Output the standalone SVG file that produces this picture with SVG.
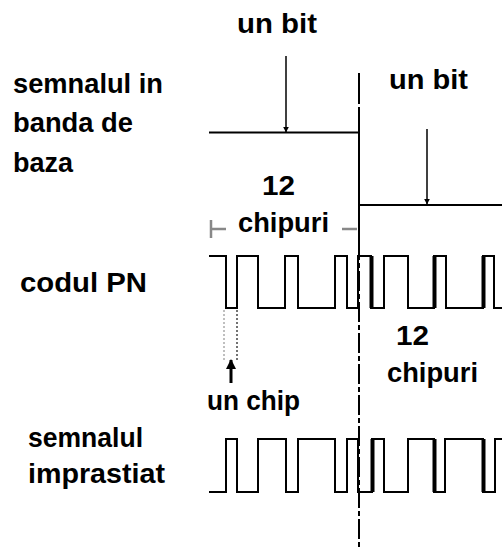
<svg xmlns="http://www.w3.org/2000/svg" width="502" height="547" viewBox="0 0 502 547">
<style>
.t{font-family:"Liberation Sans",Arial,sans-serif;font-weight:bold;font-size:27px;fill:#000}
.w{fill:none;stroke:#000;stroke-width:2;stroke-linejoin:miter}
.th{stroke:#000;stroke-width:4}
.ar{stroke:#000;stroke-width:1.5}
.dim{stroke:#888;stroke-width:2.5;fill:none}
</style>
<defs>
<marker id="ah" viewBox="0 0 10 10" refX="9" refY="5" markerWidth="6" markerHeight="6" markerUnits="userSpaceOnUse" orient="auto">
<path d="M0,0 L10,5 L0,10 z" fill="#000"/>
</marker>
<marker id="ahb" viewBox="0 0 10 10" refX="9" refY="5" markerWidth="10" markerHeight="10" markerUnits="userSpaceOnUse" orient="auto">
<path d="M0,0 L10,5 L0,10 z" fill="#000"/>
</marker>
</defs>
<rect width="502" height="547" fill="#fff"/>
<g id="baseband">
<path class="w" d="M209,132.5 H359 V205 H502"/>
<line x1="359" y1="73" x2="359" y2="104" stroke="#000" stroke-width="2"/>
<line x1="359" y1="107" x2="359" y2="240" stroke="#000" stroke-width="2"/>
</g>
<g id="divider">
<line x1="359" y1="240" x2="359" y2="547" stroke="#000" stroke-width="2" stroke-dasharray="20 3 5 3"/>
</g>
<g id="pn-code">
<path class="w" d="M209,256 H226 V308 H237 V256 H258 V308 H285 V256 H298 V308 H335 V256 H347 V308 H358 V256 H371 V308 H384 V256 H408 V308 H434 V256 H446 V308 H483 V256 H494 V308 H502"/>
<line class="th" x1="371.5" y1="256" x2="371.5" y2="308"/>
<line class="th" x1="434.5" y1="256" x2="434.5" y2="308"/>
<line class="th" x1="483.5" y1="256" x2="483.5" y2="308"/>
</g>
<g id="spread">
<path class="w" d="M209,492 H226 V439 H237 V492 H258 V439 H286 V492 H298 V439 H335 V492 H347 V439 H358 V492 H372 V439 H384 V492 H408 V439 H434 V492 H445 V439 H483 V492 H495 V439 H502"/>
<line class="th" x1="372.5" y1="439" x2="372.5" y2="492"/>
<line class="th" x1="434.5" y1="439" x2="434.5" y2="492"/>
<line class="th" x1="483.5" y1="439" x2="483.5" y2="492"/>
</g>
<g id="connectors">
<line class="ar" x1="286" y1="56" x2="286" y2="132" marker-end="url(#ah)"/>
<line class="ar" x1="427" y1="129" x2="427" y2="204" marker-end="url(#ah)"/>
<line x1="231" y1="383" x2="231" y2="360" stroke="#000" stroke-width="3" marker-end="url(#ahb)"/>
<line x1="224" y1="310" x2="224" y2="360" stroke="#aaa" stroke-width="1.5" stroke-dasharray="2 2"/>
<line x1="237" y1="310" x2="237" y2="360" stroke="#444" stroke-width="1.5" stroke-dasharray="2 2"/>
<path class="dim" d="M211,220 V238 M211,229 H226"/>
<path class="dim" d="M342,229 H357"/>
</g>
<g id="labels">
<text class="t" x="237" y="33" textLength="80" lengthAdjust="spacingAndGlyphs">un bit</text>
<text class="t" x="389" y="89" textLength="79" lengthAdjust="spacingAndGlyphs">un bit</text>
<text class="t" x="13" y="93" textLength="150" lengthAdjust="spacingAndGlyphs">semnalul in</text>
<text class="t" x="13" y="132" textLength="120" lengthAdjust="spacingAndGlyphs">banda de</text>
<text class="t" x="13" y="172" textLength="60" lengthAdjust="spacingAndGlyphs">baza</text>
<text class="t" x="262" y="195" textLength="33" lengthAdjust="spacingAndGlyphs">12</text>
<text class="t" x="238" y="232" textLength="91" lengthAdjust="spacingAndGlyphs">chipuri</text>
<text class="t" x="20" y="292" textLength="127" lengthAdjust="spacingAndGlyphs">codul PN</text>
<text class="t" x="396" y="345" textLength="33" lengthAdjust="spacingAndGlyphs">12</text>
<text class="t" x="387" y="382" textLength="91" lengthAdjust="spacingAndGlyphs">chipuri</text>
<text class="t" x="207" y="410" textLength="93" lengthAdjust="spacingAndGlyphs">un chip</text>
<text class="t" x="28" y="447" textLength="115" lengthAdjust="spacingAndGlyphs">semnalul</text>
<text class="t" x="28" y="483" textLength="137" lengthAdjust="spacingAndGlyphs">imprastiat</text>
</g>
</svg>
